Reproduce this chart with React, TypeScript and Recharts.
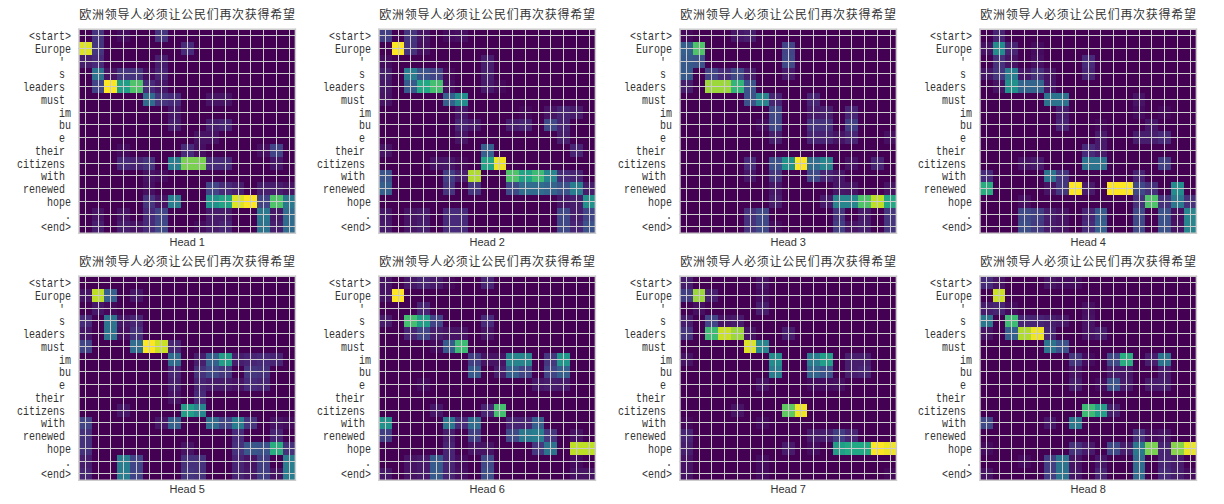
import React from 'react';
import { ScatterChart, Scatter, XAxis, YAxis } from 'recharts';

const sourceChars = ['欧', '洲', '领', '导', '人', '必', '须', '让', '公', '民', '们', '再', '次', '获', '得', '希', '望'];
// trailing spaces are part of the tokens, they push the label left
const tokens = ['<start>', 'Europe', "' ", 's ', 'leaders ', 'must ', 'im', 'bu', 'e ', 'their ', 'citizens ', 'with ', 'renewed ', 'hope', '.', '<end>'];

type Row = Record<number, number>;

// attention in percent, one entry per token, keyed by source char index
const head1: Row[] = [
  { 1: 15, 3: 3, 6: 15 },
  { 0: 95, 1: 15, 8: 12 },
  { 0: 8, 1: 12, 6: 8 },
  { 1: 38, 2: 5, 3: 15, 4: 15, 5: 3, 6: 10 },
  { 1: 20, 2: 100, 3: 55, 4: 72, 5: 12, 6: 6 },
  { 5: 35, 6: 15, 7: 12, 10: 5, 11: 5 },
  { 7: 6 },
  { 7: 8, 10: 8, 11: 10 },
  { 9: 5, 10: 5 },
  { 3: 3, 8: 12, 9: 4, 14: 4, 15: 20 },
  { 3: 12, 4: 10, 5: 15, 7: 42, 8: 80, 9: 80, 10: 12, 11: 12, 15: 6 },
  { 5: 5, 6: 3 },
  { 5: 4, 10: 20, 11: 12, 12: 8, 14: 8, 15: 8, 16: 5 },
  { 5: 15, 6: 5, 7: 42, 10: 50, 11: 58, 12: 95, 13: 100, 14: 20, 15: 72, 16: 40 },
  { 1: 5, 3: 5, 5: 12, 6: 20, 10: 7, 11: 7, 14: 40, 15: 6, 16: 35 },
  { 1: 8, 3: 8, 4: 5, 5: 12, 6: 22, 9: 3, 10: 7, 11: 10, 14: 38, 15: 8, 16: 35 },
];
const head2: Row[] = [
  { 0: 18, 2: 15, 3: 5, 5: 3, 6: 4 },
  { 1: 100, 2: 14, 3: 4 },
  { 0: 3, 8: 8 },
  { 0: 8, 2: 42, 3: 25, 4: 20, 5: 2, 8: 8 },
  { 0: 6, 2: 28, 3: 60, 4: 70, 5: 4, 8: 7, 9: 2 },
  { 0: 5, 5: 30, 6: 48 },
  { 6: 6, 11: 2, 13: 5, 14: 10, 15: 7 },
  { 6: 10, 7: 6, 10: 8, 11: 10, 13: 22, 14: 10 },
  { 6: 5, 14: 8 },
  { 0: 5, 8: 30, 15: 10 },
  { 4: 5, 5: 6, 6: 2, 8: 58, 9: 98 },
  { 0: 25, 5: 18, 6: 8, 7: 88, 10: 72, 11: 58, 12: 68, 13: 45, 14: 12, 15: 10 },
  { 0: 30, 5: 15, 7: 15, 10: 22, 11: 35, 12: 35, 13: 32, 14: 25, 15: 42, 16: 8 },
  { 14: 6, 15: 8, 16: 50 },
  { 0: 6, 2: 5, 3: 7, 5: 12, 6: 12, 14: 22, 15: 8, 16: 20 },
  { 0: 7, 2: 5, 3: 8, 5: 12, 6: 12, 14: 22, 15: 10, 16: 25 },
];
const head3: Row[] = [
  { 0: 2, 4: 6, 5: 8 },
  { 0: 30, 1: 72, 8: 20 },
  { 0: 28, 1: 25, 8: 22 },
  { 0: 28, 2: 20, 3: 12, 4: 22, 5: 8, 8: 7 },
  { 0: 8, 2: 85, 3: 85, 4: 65, 5: 25 },
  { 5: 25, 6: 45, 7: 10, 10: 10 },
  { 7: 22, 10: 7, 11: 8, 13: 10 },
  { 6: 3, 7: 22, 10: 15, 11: 14, 13: 18 },
  { 7: 8, 10: 10, 11: 10, 12: 5, 13: 10, 16: 4 },
  {},
  { 5: 12, 7: 25, 8: 50, 9: 100, 10: 35, 11: 45, 13: 5, 15: 10 },
  { 5: 6, 7: 15, 10: 22, 11: 10, 12: 6 },
  { 7: 6, 12: 6, 13: 5, 16: 5 },
  { 7: 8, 11: 7, 12: 45, 13: 45, 14: 72, 15: 90, 16: 60 },
  { 5: 14, 6: 22, 12: 15, 14: 7, 16: 15 },
  { 5: 14, 6: 22, 7: 3, 12: 18, 13: 5, 14: 8, 16: 15 },
];
const head4: Row[] = [
  { 1: 10 },
  { 0: 5, 1: 48, 2: 10, 4: 3 },
  { 1: 14, 2: 5, 4: 4, 8: 12 },
  { 0: 6, 1: 16, 2: 42, 3: 6, 4: 14, 5: 5, 8: 10 },
  { 1: 5, 2: 50, 3: 32, 4: 32, 5: 6 },
  { 5: 38, 6: 38, 12: 5 },
  { 6: 8, 12: 3, 14: 2 },
  { 6: 10, 9: 2, 13: 6 },
  { 9: 7, 12: 8, 13: 8, 14: 12 },
  { 8: 12, 9: 7 },
  { 3: 5, 4: 7, 8: 38, 9: 38, 14: 18 },
  { 0: 12, 5: 38, 6: 15, 12: 10 },
  { 0: 62, 5: 5, 6: 16, 7: 100, 8: 7, 10: 100, 11: 100, 12: 22, 13: 14, 15: 48 },
  { 3: 4, 12: 14, 13: 72, 14: 14, 15: 40, 16: 14 },
  { 3: 22, 4: 18, 5: 8, 6: 5, 8: 10, 9: 28, 12: 22, 14: 25, 15: 4, 16: 45 },
  { 3: 24, 4: 17, 5: 7, 6: 5, 8: 12, 9: 30, 12: 22, 14: 25, 15: 5, 16: 45 },
];
const head5: Row[] = [
  {},
  { 0: 5, 1: 90, 2: 30, 4: 6 },
  { 1: 6, 2: 2 },
  { 0: 12, 2: 38, 3: 6, 4: 10 },
  { 0: 6, 2: 38, 3: 4, 4: 14 },
  { 0: 20, 4: 35, 5: 100, 6: 92, 7: 10 },
  { 7: 35, 9: 8, 10: 30, 11: 55, 12: 8, 13: 10, 14: 12, 15: 10 },
  { 7: 10, 9: 14, 10: 22, 11: 16, 13: 16, 14: 14 },
  { 7: 8, 9: 10, 10: 7, 11: 7, 12: 5, 13: 12, 14: 10 },
  { 7: 5, 9: 12 },
  { 3: 6, 8: 55, 9: 45 },
  { 0: 20, 6: 6, 7: 30, 10: 35, 11: 20, 12: 42, 13: 15, 15: 5, 16: 3 },
  { 0: 14, 12: 12, 15: 10 },
  { 0: 14, 8: 5, 12: 14, 13: 27, 14: 25, 15: 62, 16: 14 },
  { 0: 8, 3: 42, 4: 20, 8: 14, 9: 14, 12: 10, 13: 5, 14: 18, 16: 42 },
  { 0: 10, 3: 42, 4: 20, 8: 16, 9: 14, 12: 10, 13: 6, 14: 18, 15: 5, 16: 42 },
];
const head6: Row[] = [
  { 0: 5, 2: 6, 3: 10, 4: 7, 5: 2, 8: 10 },
  { 0: 5, 1: 100 },
  { 3: 10 },
  { 0: 7, 2: 70, 3: 55, 4: 20, 8: 12 },
  { 2: 10, 3: 20, 4: 8, 5: 5, 6: 5, 8: 5 },
  { 4: 3, 5: 28, 6: 68 },
  { 7: 18, 8: 5, 9: 5, 10: 45, 11: 45, 13: 16, 14: 52 },
  { 7: 28, 9: 8, 10: 30, 11: 20, 13: 20, 14: 30 },
  { 3: 3, 12: 6, 13: 8, 14: 7 },
  {},
  { 4: 6, 8: 10, 9: 70 },
  { 0: 50, 5: 40, 6: 12, 7: 35, 10: 10, 11: 10, 12: 30 },
  { 0: 18, 5: 8, 7: 18, 10: 22, 11: 40, 12: 42, 13: 16, 15: 5 },
  { 5: 10, 7: 5, 8: 5, 12: 16, 13: 38, 15: 90, 16: 90 },
  { 2: 5, 3: 7, 4: 28, 5: 10, 6: 3, 8: 22, 15: 3 },
  { 0: 6, 2: 5, 3: 7, 4: 28, 5: 10, 6: 4, 8: 24, 15: 5, 16: 5 },
];
const head7: Row[] = [
  { 0: 8, 6: 5 },
  { 0: 18, 1: 85, 2: 8, 6: 3 },
  { 1: 4, 6: 8 },
  { 0: 8, 2: 20, 3: 5, 4: 7 },
  { 0: 15, 2: 68, 3: 92, 4: 85, 5: 5, 8: 8 },
  { 5: 95, 6: 45 },
  { 0: 5, 7: 48, 10: 42, 11: 55, 13: 8, 14: 8 },
  { 7: 42, 10: 32, 11: 25, 13: 8, 14: 10 },
  { 6: 5, 10: 3, 11: 3, 12: 4 },
  {},
  { 4: 5, 8: 75, 9: 98 },
  { 0: 2, 6: 3 },
  { 0: 10, 10: 7, 11: 8, 12: 18, 13: 10 },
  { 0: 8, 8: 7, 10: 3, 12: 55, 13: 60, 14: 60, 15: 100, 16: 98 },
  { 0: 5, 6: 3 },
  { 0: 5, 6: 3, 16: 2 },
];
const head8: Row[] = [
  { 0: 12, 1: 5, 5: 5, 6: 3, 7: 3 },
  { 1: 92 },
  { 0: 8, 1: 10, 2: 3, 8: 4 },
  { 0: 40, 2: 68, 3: 10, 4: 10, 5: 8, 6: 6, 8: 5 },
  { 0: 5, 2: 30, 3: 88, 4: 98, 5: 10, 8: 5, 9: 8 },
  { 5: 38, 6: 25 },
  { 7: 16, 8: 3, 10: 22, 11: 62, 13: 8, 14: 38 },
  { 7: 5, 10: 7, 11: 6, 14: 7 },
  { 7: 8, 9: 3, 10: 25, 11: 7, 13: 7, 14: 8 },
  {},
  { 8: 68, 9: 55, 10: 8 },
  { 0: 22, 5: 6, 7: 40 },
  { 12: 14, 13: 3, 14: 5 },
  { 0: 3, 7: 14, 8: 7, 10: 22, 11: 8, 12: 40, 13: 80, 14: 10, 15: 82, 16: 97 },
  { 3: 3, 5: 18, 6: 38, 7: 5, 9: 6, 12: 35, 14: 10, 15: 7 },
  { 0: 5, 5: 18, 6: 38, 7: 6, 9: 10, 12: 35, 14: 12, 15: 8, 16: 3 },
];

const heads = [head1, head2, head3, head4, head5, head6, head7, head8];
const panelLefts = [78.6, 379.3, 679.5, 980, 78.6, 379.3, 679.5, 980];
const panelTops = [29.3, 29.3, 29.3, 29.3, 276, 276, 276, 276];

const viridis = ['#440154', '#482475', '#414487', '#355f8d', '#2a788e', '#21918c', '#22a884', '#44bf70', '#7ad151', '#bddf26', '#fde725'];

const PLOT_W = 216.4;
const PLOT_H = 204;
const AXIS_W = 72;
const TOP_H = 29.3;
const BOTTOM_H = 21;
const CHART_W = 292;
const CELL_W = PLOT_W / sourceChars.length;
const CELL_H = PLOT_H / tokens.length;
const INK = '#333333';
const GRID = '#cccccc';

const colorOf = (pct: number): string => {
  const t = (Math.min(pct, 100) / 100) * (viridis.length - 1);
  const i = Math.min(Math.floor(t), viridis.length - 2);
  const f = t - i;
  const ch = (hex: string, at: number) => parseInt(hex.slice(at, at + 2), 16);
  const mix = (at: number) => Math.round(ch(viridis[i], at) * (1 - f) + ch(viridis[i + 1], at) * f);
  return `rgb(${mix(1)},${mix(3)},${mix(5)})`;
};

const HeatCell = (props: any) => (
  <rect
    x={props.cx - CELL_W / 2}
    y={props.cy - CELL_H / 2}
    width={CELL_W + 0.3}
    height={CELL_H + 0.3}
    fill={colorOf(props.payload.value)}
    shapeRendering="crispEdges"
  />
);

// the grid sits on top of the cells, so it is a series drawn after them
const GridLine = ({ cx, cy, payload }: any) => {
  const edge = payload.col === -0.5 || payload.col === 16.5 || payload.row === -0.5 || payload.row === 15.5;
  const style = edge
    ? { stroke: GRID, strokeWidth: 1.5 }
    : { stroke: GRID, strokeWidth: 1, shapeRendering: 'crispEdges' as const };
  return payload.kind === 'v' ? (
    <line x1={cx} x2={cx} y1={TOP_H - 0.7} y2={TOP_H + PLOT_H + 0.7} {...style} />
  ) : (
    <line x1={AXIS_W - 0.7} x2={AXIS_W + PLOT_W + 0.7} y1={cy} y2={cy} {...style} />
  );
};

const TokenTick = ({ x, y, payload }: any) => (
  <text
    transform={`translate(${x},${y + 4.5}) scale(0.833,1)`}
    textAnchor="end"
    fontFamily="'Liberation Mono'"
    fontSize={12}
    fill={INK}
    style={{ whiteSpace: 'pre' }}
  >
    {tokens[payload.value]}
  </text>
);

const CharTick = ({ x, payload }: any) => (
  <text x={x} y={19.5} textAnchor="middle" fontFamily="'Noto Sans CJK SC'" fontSize={12} fill={INK}>
    {sourceChars[payload.value]}
  </text>
);

const colTicks = sourceChars.map((_, i) => i);
const rowTicks = tokens.map((_, i) => i);
const gridLines = [
  ...[-0.5, ...colTicks, 16.5].map((col) => ({ col, row: 0, kind: 'v' })),
  ...[-0.5, ...rowTicks, 15.5].map((row) => ({ col: 0, row, kind: 'h' })),
];

const HeadPanel = ({ index }: { index: number }) => {
  const rows = heads[index];
  const cells = rowTicks.flatMap((row) => colTicks.map((col) => ({ row, col, value: rows[row][col] ?? 0 })));
  return (
    <div style={{ position: 'absolute', left: panelLefts[index] - AXIS_W, top: panelTops[index] - TOP_H }}>
      <ScatterChart
        width={CHART_W}
        height={TOP_H + PLOT_H + BOTTOM_H}
        margin={{ top: 0, right: CHART_W - AXIS_W - PLOT_W, bottom: 0, left: 0 }}
      >
        <XAxis
          xAxisId={0}
          dataKey="col"
          type="number"
          orientation="top"
          height={TOP_H}
          domain={[-0.5, 16.5]}
          ticks={colTicks}
          interval={0}
          axisLine={false}
          tickLine={false}
          tick={CharTick}
        />
        <XAxis
          xAxisId="caption"
          type="number"
          orientation="bottom"
          height={BOTTOM_H}
          domain={[0, 1]}
          axisLine={false}
          tickLine={false}
          tick={false}
          label={{
            value: `Head ${index + 1}`,
            position: 'insideBottom',
            offset: 8,
            fill: INK,
            fontSize: 11,
            fontFamily: "'Liberation Sans'",
          }}
        />
        <YAxis
          dataKey="row"
          type="number"
          width={AXIS_W}
          reversed
          domain={[-0.5, 15.5]}
          ticks={rowTicks}
          interval={0}
          axisLine={false}
          tickLine={false}
          tick={TokenTick}
        />
        <Scatter data={cells} shape={HeatCell} isAnimationActive={false} />
        <Scatter data={gridLines} shape={GridLine} isAnimationActive={false} />
      </ScatterChart>
    </div>
  );
};

export default function App() {
  return (
    <div style={{ position: 'absolute', left: 0, top: 0, width: 1224, height: 504, background: '#ffffff', opacity: 0.999 }}>
      {heads.map((_, i) => (
        <HeadPanel key={i} index={i} />
      ))}
    </div>
  );
}
